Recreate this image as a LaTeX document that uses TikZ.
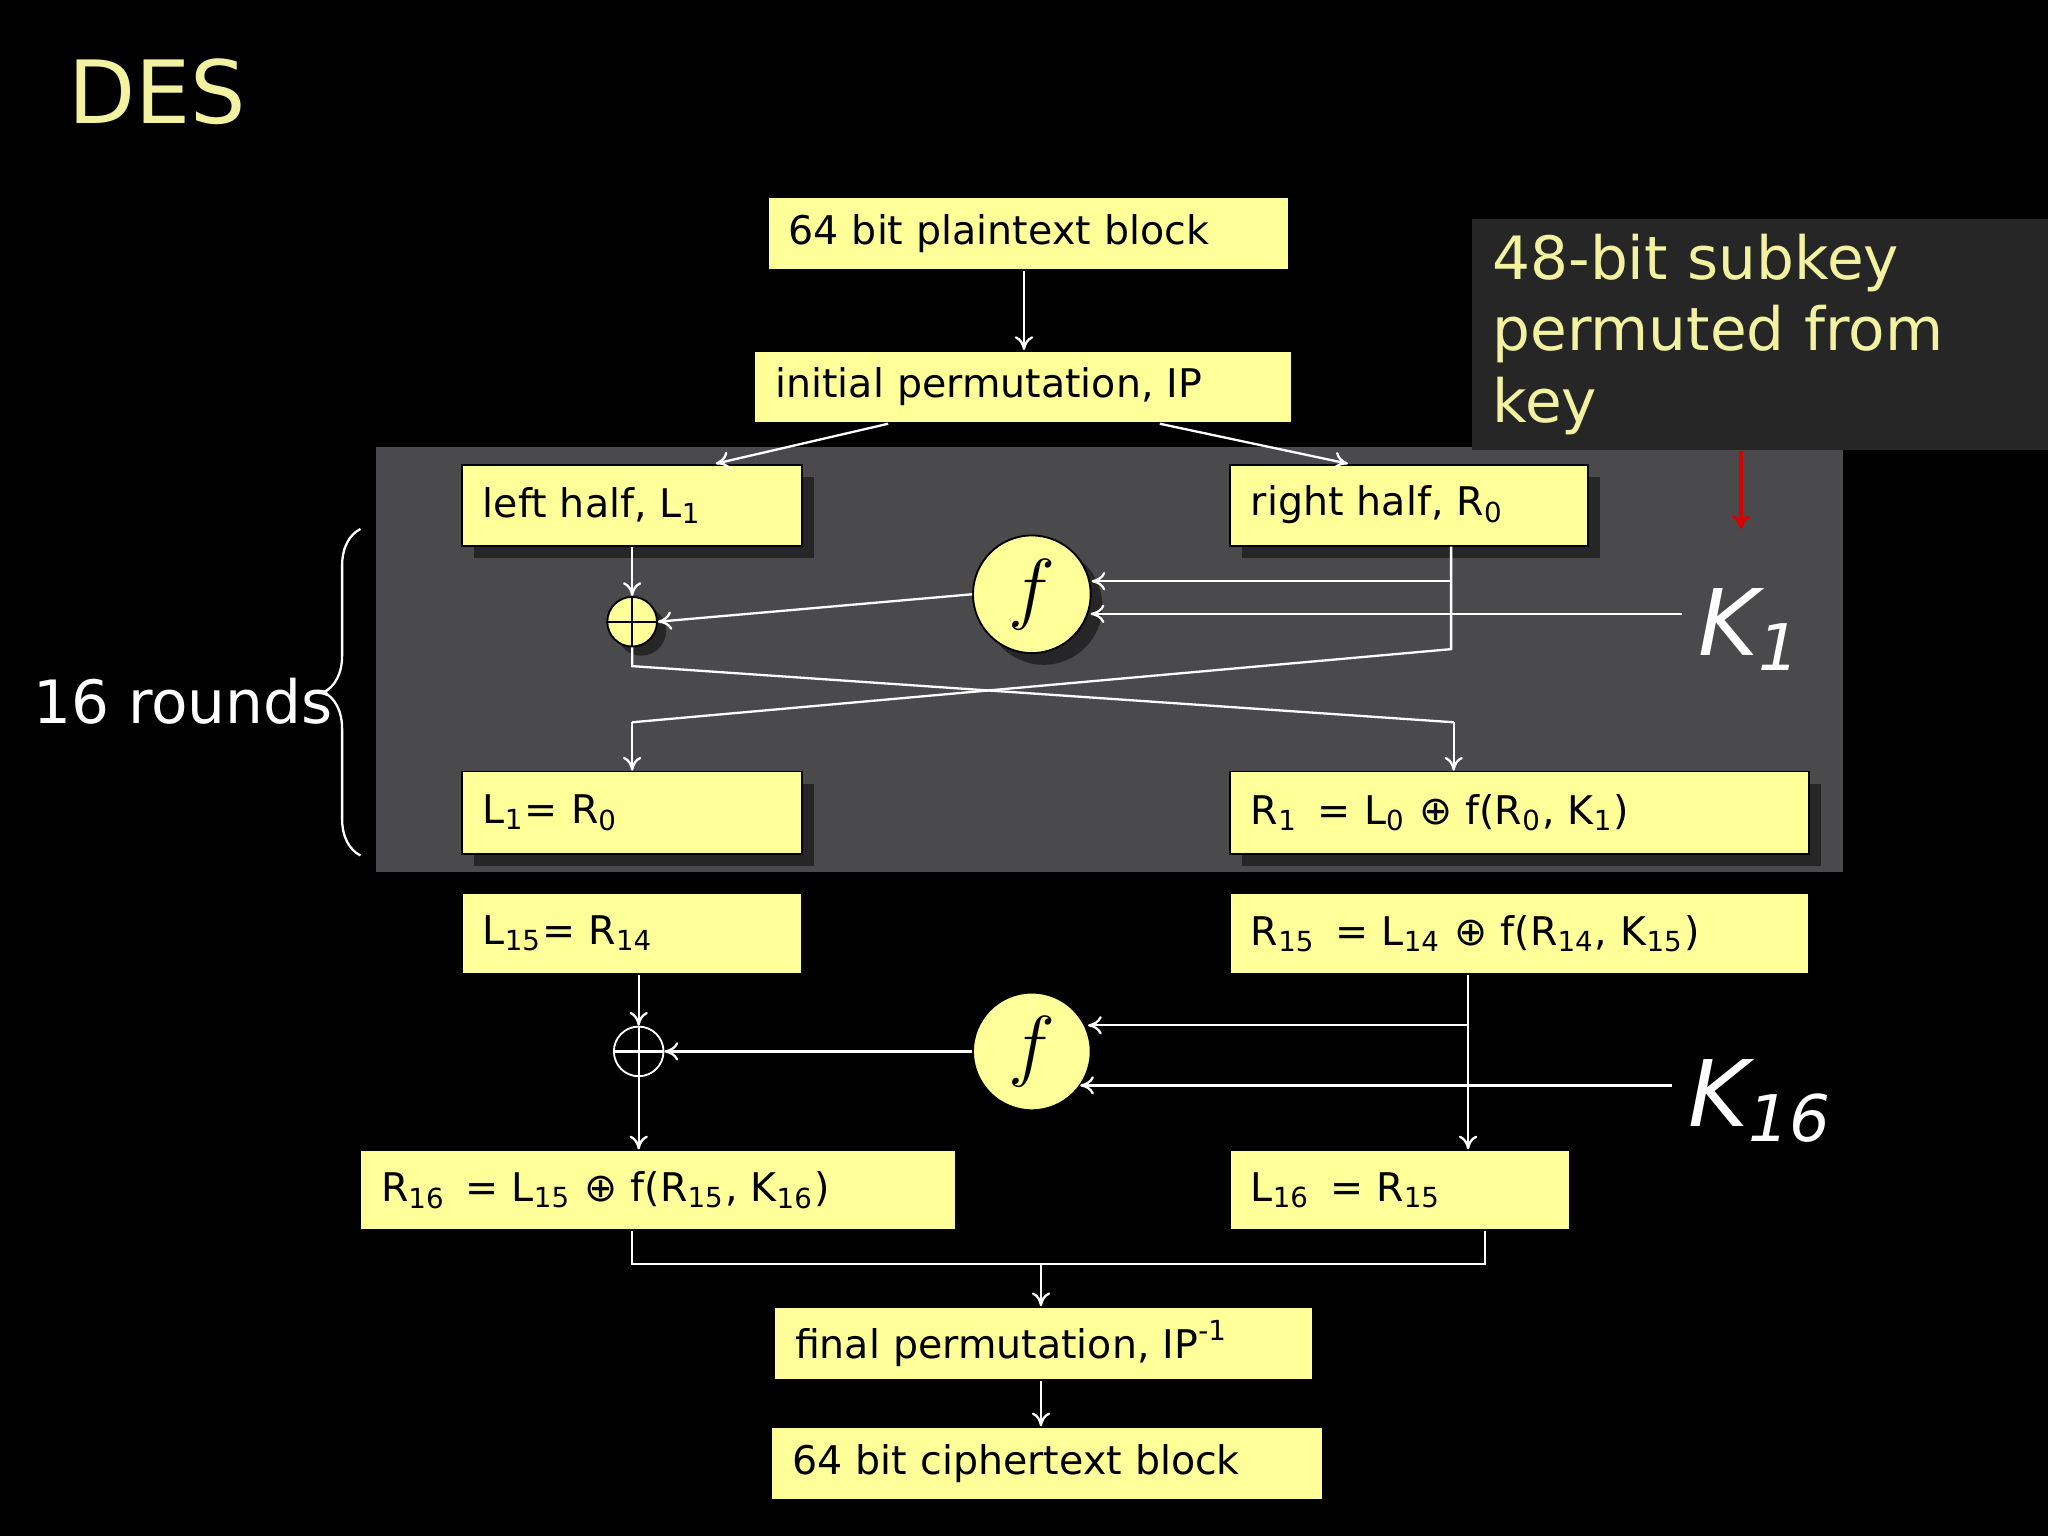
\documentclass[tikz,border=0pt]{standalone}
\usepackage{fontspec}
\setmainfont{DejaVu Sans}
\usetikzlibrary{calc,arrows.meta,decorations.pathreplacing}
\definecolor{bx}{HTML}{FFFF99}
\definecolor{ttl}{HTML}{F2F2A0}
\definecolor{panel}{HTML}{4A4A4C}
\tikzset{
 box/.style={draw=black,line width=0.4pt,fill=bx,anchor=north west,inner xsep=0.16cm,inner ysep=0pt,align=left,font=\fontsize{8.6}{10}\selectfont,text=black},
 bxw/.style n args={3}{minimum width=#1cm,text width=#2cm,minimum height=#3cm},
 arr/.style={draw=white,line width=0.5pt,-{To[length=3pt,width=4pt]}},
 ln/.style={draw=white,line width=0.5pt},
 fcirc/.style={circle,fill=bx,draw=black,minimum size=0.9cm,inner sep=0pt,font=\fontsize{16}{16}\selectfont\itshape},
 xorc/.style={circle,minimum size=0.38cm,inner sep=0pt},
}
\begin{document}
\begin{tikzpicture}[x=0.01cm,y=-0.01cm]
\fill[black] (0,0) rectangle (1568,1176);
\useasboundingbox (0,0) rectangle (1568,1176);
\node[anchor=west,text=ttl,font=\fontsize{19}{19}\selectfont] (title) at (40,70) {DES};
\fill[panel] (288,342) rectangle (1411,668);
\fill[black!85] (363,365) rectangle (623,427);
\fill[black!85] (951,365) rectangle (1225,427);
\fill[black!85] (363,600) rectangle (623,663);
\fill[black!85] (951,600) rectangle (1394,663);
\fill[black!85] (799,464) circle (45);
\fill[black!85] (491,483) circle (19);
\node[box,bxw={3.99}{3.67}{0.56}] (pt) at (587,150) {64 bit plaintext block};
\node[box,bxw={4.11}{3.79}{0.55}] (ip) at (577,268) {initial permutation, IP};
\node[box,bxw={2.60}{2.28}{0.62}] (lh) at (353,355) {left half, L\textsubscript{1}};
\node[box,bxw={2.74}{2.42}{0.62}] (rh) at (941,355) {right half, R\textsubscript{0}};
\node[box,bxw={2.60}{2.28}{0.63}] (l1) at (353,590) {L\textsubscript{1}= R\textsubscript{0}};
\node[box,bxw={4.43}{4.11}{0.63}] (r1) at (941,590) {R\textsubscript{1} \,= L\textsubscript{0} ⊕ f(R\textsubscript{0}, K\textsubscript{1})};
\node[box,bxw={2.60}{2.28}{0.62}] (l15) at (353,683) {L\textsubscript{15}= R\textsubscript{14}};
\node[box,bxw={4.43}{4.11}{0.62}] (r15) at (941,683) {R\textsubscript{15} \,= L\textsubscript{14} ⊕ f(R\textsubscript{14}, K\textsubscript{15})};
\node[box,bxw={4.56}{4.24}{0.61}] (r16) at (275,880) {R\textsubscript{16} \,= L\textsubscript{15} ⊕ f(R\textsubscript{15}, K\textsubscript{16})};
\node[box,bxw={2.60}{2.28}{0.61}] (l16) at (941,880) {L\textsubscript{16} \,= R\textsubscript{15}};
\node[box,bxw={4.12}{3.80}{0.56}] (fp) at (592,1000) {final permutation, IP\textsuperscript{-1}};
\node[box,bxw={4.22}{3.90}{0.56}] (ct) at (590,1092) {64 bit ciphertext block};
\node[fcirc] (f1) at (790,455) {$f$};
\node[xorc,fill=bx,draw=black] (x1) at (484,476) {};
\draw[black,line width=0.5pt] (x1.north)--(x1.south) (x1.west)--(x1.east);
\node[fcirc] (f2) at (790,805) {$f$};
\node[xorc,draw=white] (x2) at (489,805) {};
\draw[white,line width=0.5pt] (x2.north)--(x2.south) (x2.west)--(x2.east);
\node[text=white,font=\fontsize{20}{20}\selectfont\itshape] (k1) at (1340,482) {K\textsubscript{1}};
\node[text=white,font=\fontsize{20}{20}\selectfont\itshape] (k16) at (1348,843) {K\textsubscript{16}};
\node[text=white,font=\fontsize{13}{13}\selectfont] (rounds) at (140,537) {16 rounds};
\draw[white,line width=0.5pt,decorate,decoration={brace,amplitude=8pt}] (276,655) -- (276,405);
\node[fill=black!85,anchor=north west,minimum width=4.42cm,minimum height=1.2cm,text width=4.2cm,inner xsep=0.16cm,align=left,text=ttl,font=\fontsize{13}{15.5}\selectfont] (note) at (1126,167) {48-bit subkey\\permuted from key};
\coordinate (redtip) at (1333,405);
\draw[red!85!black,line width=0.8pt,-{To[length=3pt,width=4pt]}] (note.south -| redtip) -- (redtip);
\draw[arr] (pt.south -| 784,0) -- (ip.north -| 784,0);
\draw[arr] (ip.south -| 680,0) -- (lh.north -| 548,0);
\draw[arr] (ip.south -| 888,0) -- (rh.north -| 1032,0);
\draw[arr] (lh.south -| x1) -- (x1.north);
\draw[ln] (rh.south -| 1111,0) -- (1111,497) -- (484,553) coordinate (a1);
\draw[arr] (a1) -- (l1.north -| a1);
\draw[arr] (1111,445) -- (f1.east |- 0,445);
\draw[arr] (k1.west |- 0,470) -- (835,470);
\draw[arr] (f1.west) -- (x1.east);
\draw[ln] (x1.south) -- (484,510) -- (1113,553) coordinate (a2);
\draw[arr] (a2) -- (r1.north -| a2);
\draw[arr] (l15.south -| x2) -- (x2.north);
\draw[arr] (x2.south) -- (r16.north -| x2);
\draw[arr] (r15.south -| 1124,0) -- (l16.north -| 1124,0);
\draw[arr] (1124,785) -- (833,785);
\draw[arr] (k16.west |- 0,831) -- (827,831);
\draw[arr] (f2.west) -- (x2.east);
\draw[ln] (r16.south -| 484,0) -- (484,968) -- (1137,968) -- (l16.south -| 1137,0);
\draw[arr] (797,968) -- (fp.north -| 797,0);
\draw[arr] (fp.south -| 797,0) -- (ct.north -| 797,0);
\end{tikzpicture}
\end{document}
